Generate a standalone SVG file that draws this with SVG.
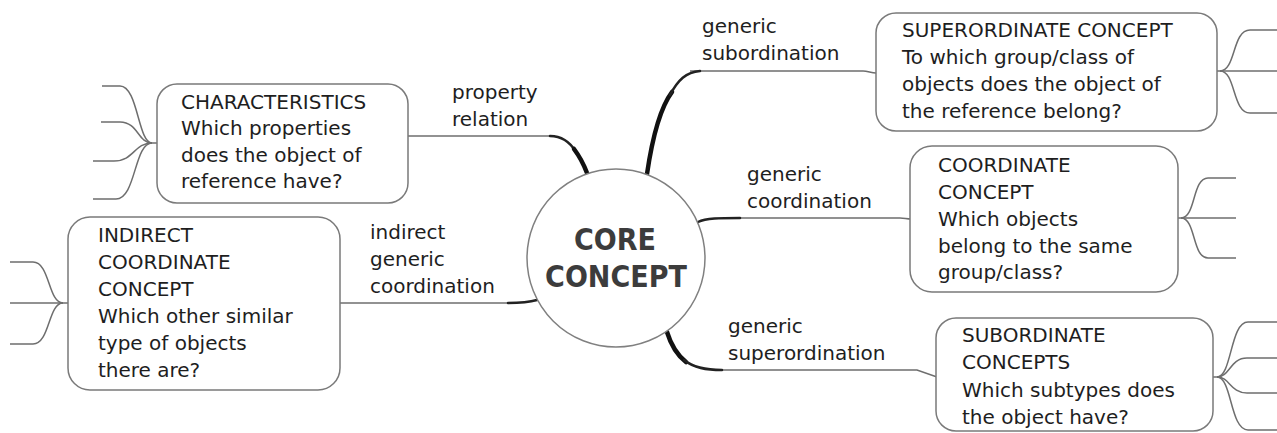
<svg xmlns="http://www.w3.org/2000/svg" width="1277" height="433" viewBox="0 0 1277 433">
<style>
  .box { fill: #fff; stroke: #7a7a7a; stroke-width: 1.5; }
  .t { font-family: "DejaVu Sans", Verdana, sans-serif; font-size: 20px; fill: #1e1e1e; }
  .core { font-family: "DejaVu Sans Condensed", "DejaVu Sans", sans-serif; font-size: 30px; font-weight: bold; fill: #3c3c3c; text-anchor: middle; }
  .thin { fill: none; stroke: #6e6e6e; stroke-width: 1.5; }
  .thick { fill: none; stroke: #111; stroke-width: 4.5; stroke-linecap: round; }
  .mid { fill: none; stroke: #222; stroke-width: 2.5; stroke-linecap: round; }
</style>
<rect width="1277" height="433" fill="#fff"/>

<g id="connectors">
  <!-- property relation -->
  <path class="thin" d="M408,136 L555,136"/>
  <path class="mid" d="M550,136 C562,136 570,142 576,152"/>
  <path class="thick" d="M574,149 C580,157 584,165 587,173"/>
  <!-- generic subordination -->
  <path class="thin" d="M690,71 L863,71 C868,71 871,73 876,73"/>
  <path class="thick" d="M647,174 C652,140 660,108 672,92"/>
  <path class="mid" d="M670,95 C678,80 686,72 700,71"/>
  <!-- generic coordination -->
  <path class="thin" d="M735,218 L900,218 C904,218 907,219 911,219"/>
  <path class="mid" d="M698,222 C706,218 720,218 740,218"/>
  <!-- generic superordination -->
  <path class="thin" d="M715,370 L917,370 L937,377"/>
  <path class="thick" d="M667,332 C671,345 677,355 686,362"/>
  <path class="mid" d="M684,360 C694,368 706,370 722,370"/>
  <!-- indirect generic coordination -->
  <path class="thin" d="M340,303 L512,303"/>
  <path class="mid" d="M508,303 C522,303 530,302 537,300"/>

  <!-- fans: characteristics -->
  <path class="thin" d="M157,143 L152,143 C138,143 138,86 120,86 L102,86"/>
  <path class="thin" d="M152,143 C138,143 138,122 120,122 L101,122"/>
  <path class="thin" d="M152,143 C134,143 134,161 114,161 L93,161"/>
  <path class="thin" d="M152,143 C134,143 136,199 116,199 L93,199"/>
  <!-- fans: indirect -->
  <path class="thin" d="M68,303 L10,303"/>
  <path class="thin" d="M63,303 C48,303 50,262 33,262 L10,262"/>
  <path class="thin" d="M63,303 C48,303 50,344 33,344 L10,344"/>
  <!-- fans: superordinate -->
  <path class="thin" d="M1217,71 L1277,71"/>
  <path class="thin" d="M1220,71 C1236,71 1232,30 1250,30 L1277,30"/>
  <path class="thin" d="M1220,71 C1236,71 1232,113 1250,113 L1277,113"/>
  <!-- fans: coordinate -->
  <path class="thin" d="M1178,218 L1236,218"/>
  <path class="thin" d="M1181,218 C1196,218 1192,178 1208,178 L1236,178"/>
  <path class="thin" d="M1181,218 C1196,218 1192,258 1208,258 L1236,258"/>
  <!-- fans: subordinate -->
  <path class="thin" d="M1213,377 L1217,377"/>
  <path class="thin" d="M1217,377 C1232,377 1230,322 1248,322 L1277,322"/>
  <path class="thin" d="M1217,377 C1230,377 1230,358 1247,358 L1277,358"/>
  <path class="thin" d="M1217,377 C1230,377 1230,393 1247,393 L1277,393"/>
  <path class="thin" d="M1217,377 C1232,377 1230,430 1248,430 L1277,430"/>
</g>

<g id="core">
  <circle cx="616" cy="258" r="89" fill="#fff" stroke="#808080" stroke-width="1.5"/>
  <text class="core" x="615" y="250">CORE</text>
  <text class="core" x="616" y="287">CONCEPT</text>
</g>

<g id="characteristics">
  <rect class="box" x="157" y="84" width="251" height="119" rx="20"/>
  <text class="t" x="181" y="109">CHARACTERISTICS</text>
  <text class="t" x="181" y="135">Which properties</text>
  <text class="t" x="181" y="162">does the object of</text>
  <text class="t" x="181" y="188">reference have?</text>
</g>

<g id="indirect">
  <rect class="box" x="68" y="217" width="272" height="173" rx="22"/>
  <text class="t" x="98" y="242">INDIRECT</text>
  <text class="t" x="98" y="269">COORDINATE</text>
  <text class="t" x="98" y="296">CONCEPT</text>
  <text class="t" x="98" y="323">Which other similar</text>
  <text class="t" x="98" y="350">type of objects</text>
  <text class="t" x="98" y="377">there are?</text>
</g>

<g id="superordinate">
  <rect class="box" x="876" y="13" width="341" height="118" rx="20"/>
  <text class="t" x="902" y="37">SUPERORDINATE CONCEPT</text>
  <text class="t" x="902" y="64">To which group/class of</text>
  <text class="t" x="902" y="91">objects does the object of</text>
  <text class="t" x="902" y="118">the reference belong?</text>
</g>

<g id="coordinate">
  <rect class="box" x="910" y="146" width="268" height="146" rx="22"/>
  <text class="t" x="938" y="172">COORDINATE</text>
  <text class="t" x="938" y="199">CONCEPT</text>
  <text class="t" x="938" y="226">Which objects</text>
  <text class="t" x="938" y="253">belong to the same</text>
  <text class="t" x="938" y="279">group/class?</text>
</g>

<g id="subordinate">
  <rect class="box" x="936" y="318" width="277" height="113" rx="20"/>
  <text class="t" x="962" y="342">SUBORDINATE</text>
  <text class="t" x="962" y="369">CONCEPTS</text>
  <text class="t" x="962" y="397">Which subtypes does</text>
  <text class="t" x="962" y="424">the object have?</text>
</g>

<g id="labels">
  <text class="t" x="452" y="99">property</text>
  <text class="t" x="452" y="126">relation</text>
  <text class="t" x="702" y="33">generic</text>
  <text class="t" x="702" y="60">subordination</text>
  <text class="t" x="747" y="181">generic</text>
  <text class="t" x="747" y="208">coordination</text>
  <text class="t" x="728" y="333">generic</text>
  <text class="t" x="728" y="360">superordination</text>
  <text class="t" x="370" y="239">indirect</text>
  <text class="t" x="370" y="266">generic</text>
  <text class="t" x="370" y="293">coordination</text>
</g>
</svg>
